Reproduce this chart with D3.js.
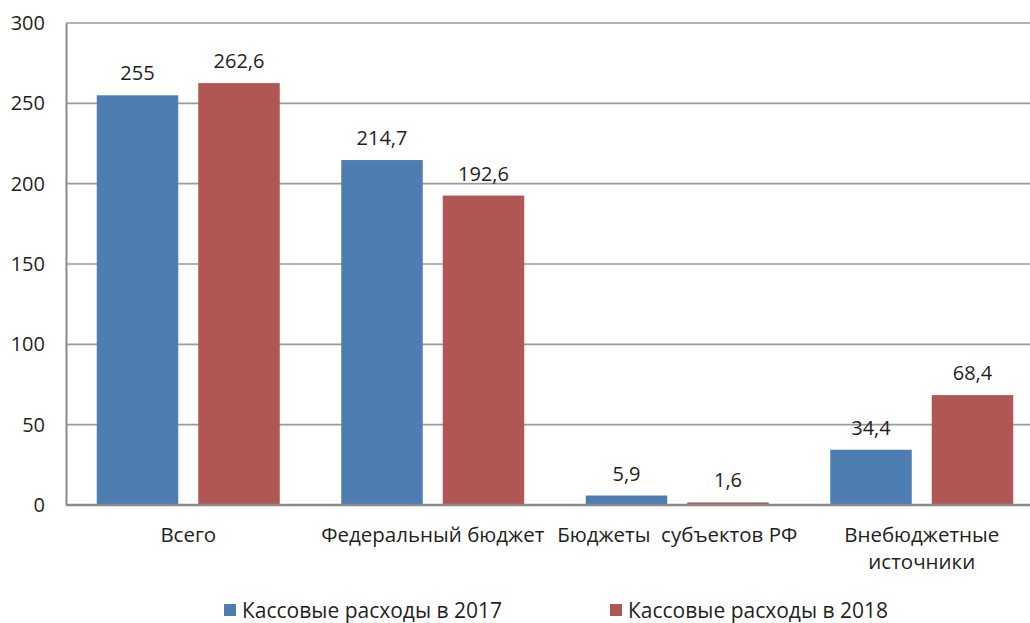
<!DOCTYPE html>
<html>
<head>
<meta charset="utf-8">
<script src="https://cdn.jsdelivr.net/npm/d3@7"></script>
<style>
  body { margin: 0; background: #fff; }
  text { font-family: "Open Sans", "Liberation Sans", sans-serif; fill: #231f20; }
</style>
</head>
<body>
<div id="chart"></div>
<script>
// data
var categories = ["Всего", "Федеральный бюджет", "Бюджеты  субъектов РФ", "Внебюджетные\nисточники"];
var seriesNames = ["Кассовые расходы в 2017", "Кассовые расходы в 2018"];
var values2017 = [255, 214.7, 5.9, 34.4];
var values2018 = [262.6, 192.6, 1.6, 68.4];
var yTicks = [0, 50, 100, 150, 200, 250, 300];
var colors = ["#4e7db1", "#b05654"];

var svgWidth = 1030;
var svgHeight = 623;

var svg = d3.select("#chart")
    .append("svg")
    .attr("width", svgWidth)
    .attr("height", svgHeight);

// plot area (right side runs a little past the window, like the original)
var plotLeft = 66, plotRight = 1044, plotTop = 23, plotBottom = 505;

var x0 = d3.scaleBand()
    .domain(d3.range(categories.length))
    .range([plotLeft, plotRight]);

var x1 = d3.scaleBand()
    .domain(d3.range(seriesNames.length))
    .range([0, x0.bandwidth()])
    .paddingInner(0.197)
    .paddingOuter(0.303);

var y = d3.scaleLinear()
    .domain([0, 300])
    .range([plotBottom, plotTop]);

// gridlines
svg.append("g")
    .selectAll("line")
    .data(yTicks.filter(d => d > 0))
    .enter()
    .append("line")
    .attr("x1", plotLeft)
    .attr("x2", svgWidth)
    .attr("y1", d => y(d))
    .attr("y2", d => y(d))
    .attr("stroke", "#9a9a9a")
    .attr("stroke-width", 1.6);

// y axis
var leftAxis = d3.axisLeft(y)
    .tickValues(yTicks)
    .tickSize(0)
    .tickPadding(21);

var yAxis = svg.append("g")
    .attr("transform", `translate(${plotLeft},0)`)
    .call(leftAxis);
yAxis.select(".domain").attr("stroke", "#8a8a8a").attr("stroke-width", 2);
yAxis.selectAll("text")
    .style("font-size", "20px")
    .style("font-family", "'Open Sans', sans-serif")
    .attr("fill", "#231f20");

// bars
var rows = categories.map((c, i) => [values2017[i], values2018[i]]);

var groups = svg.append("g")
    .selectAll("g")
    .data(rows)
    .enter()
    .append("g")
    .attr("transform", (d, i) => `translate(${x0(i)},0)`);

groups.selectAll("rect")
    .data(d => d)
    .enter()
    .append("rect")
    .attr("x", (d, j) => x1(j))
    .attr("width", x1.bandwidth())
    .attr("y", d => y(d))
    .attr("height", d => y(0) - y(d))
    .attr("fill", (d, j) => colors[j]);

// value labels
groups.selectAll("text.val")
    .data(d => d)
    .enter()
    .append("text")
    .attr("class", "val")
    .attr("x", (d, j) => x1(j) + x1.bandwidth() / 2)
    .attr("y", d => y(d) - 15)
    .attr("text-anchor", "middle")
    .style("font-size", "20px")
    .text(d => String(d).replace(".", ","));

// x axis line
svg.append("line")
    .attr("x1", plotLeft)
    .attr("x2", svgWidth)
    .attr("y1", plotBottom)
    .attr("y2", plotBottom)
    .attr("stroke", "#8a8a8a")
    .attr("stroke-width", 2.5);

// category labels
var catLabels = svg.append("g")
    .selectAll("text")
    .data(categories)
    .enter()
    .append("text")
    .attr("x", (d, i) => x0(i) + x0.bandwidth() / 2)
    .attr("y", 542)
    .attr("text-anchor", "middle")
    .style("font-size", "20.5px")
    .style("white-space", "pre");

catLabels.each(function(d) {
    var lines = d.split("\n");
    var t = d3.select(this);
    lines.forEach(function(line, k) {
        t.append("tspan")
            .attr("x", t.attr("x"))
            .attr("dy", k === 0 ? 0 : 27)
            .text(line);
    });
});

// legend
var legendX = [224, 610];
var legend = svg.append("g")
    .selectAll("g")
    .data(seriesNames)
    .enter()
    .append("g")
    .attr("transform", (d, i) => `translate(${legendX[i]},604)`);

legend.append("rect")
    .attr("x", 0)
    .attr("y", 0)
    .attr("width", 12)
    .attr("height", 12)
    .attr("fill", (d, i) => colors[i]);

legend.append("text")
    .attr("x", 18)
    .attr("y", 14)
    .style("font-size", "21px")
    .text(d => d);
</script>
</body>
</html>
